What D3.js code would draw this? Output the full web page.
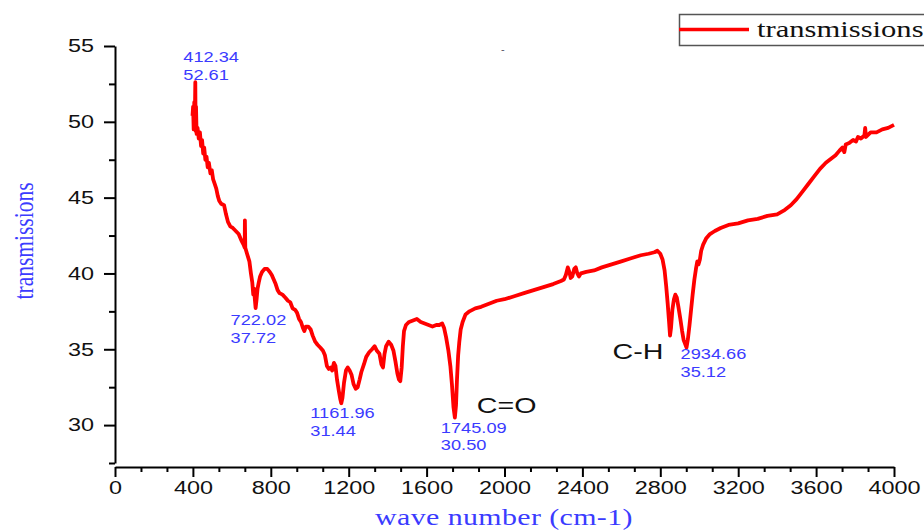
<!DOCTYPE html>
<html>
<head>
<meta charset="utf-8">
<script src="https://cdn.jsdelivr.net/npm/d3@7"></script>
<style>
  body { margin: 0; background: #fff; }
  svg { display: block; }
</style>
</head>
<body>
<svg id="chart" width="924" height="530"></svg>
<script>

// FTIR spectrum
const waveNumbers = [
  398, 401, 404, 407, 410, 412.34, 414, 416, 419, 424, 430, 436, 442, 447, 453, 458, 464, 470, 476, 482,
  490, 497, 504, 512, 520, 528, 535, 545, 560, 570, 580, 592, 605, 620, 635, 648, 660, 666, 667, 669,
  678, 690, 698, 705, 710, 714, 718, 722.02, 727, 732, 738, 745, 755, 768, 782, 795, 805, 815, 825, 835,
  845, 860, 875, 888, 900, 912, 925, 935, 945, 955, 965, 972, 980, 992, 1005, 1015, 1028, 1040, 1055, 1068,
  1078, 1088, 1098, 1108, 1115, 1124, 1132, 1140, 1150, 1157, 1161.96, 1168, 1176, 1186, 1195, 1205, 1215, 1225, 1236, 1246,
  1256, 1265, 1278, 1290, 1305, 1320, 1333, 1345, 1358, 1368, 1376, 1384, 1392, 1405, 1418, 1430, 1440, 1450, 1458, 1465,
  1472, 1478, 1484, 1494, 1510, 1530, 1550, 1570, 1590, 1610, 1630, 1650, 1665, 1680, 1690, 1700, 1712, 1722, 1730, 1738,
  1745.09, 1751, 1756, 1762, 1768, 1775, 1785, 1800, 1820, 1850, 1880, 1920, 1960, 2000, 2050, 2100, 2150, 2200, 2250, 2290,
  2305, 2315, 2325, 2333, 2340, 2348, 2358, 2366, 2374, 2382, 2392, 2420, 2460, 2500, 2550, 2600, 2650, 2700, 2740, 2770,
  2785, 2800, 2812, 2822, 2830, 2838, 2845, 2850, 2855, 2862, 2870, 2877, 2885, 2893, 2903, 2912, 2920, 2934.66, 2942, 2950,
  2958, 2966, 2975, 2983, 2990, 2996, 3003, 3010, 3020, 3035, 3055, 3080, 3110, 3150, 3200, 3250, 3300, 3350, 3400, 3440,
  3470, 3500, 3530, 3560, 3590, 3620, 3650, 3680, 3700, 3720, 3735, 3745, 3752, 3770, 3790, 3805, 3815, 3830, 3848, 3852,
  3856, 3880, 3910, 3940, 3970, 4000
];

const transmissions = [
  50.4, 51.0, 49.5, 51.3, 50.2, 52.61, 49.4, 51.0, 49.2, 49.6, 48.9, 49.3, 48.4, 48.8, 47.9, 48.3, 47.5, 47.7, 47.0, 47.3,
  46.6, 46.8, 46.2, 45.9, 45.6, 45.1, 44.8, 44.6, 44.5, 43.9, 43.4, 43.1, 43.0, 42.8, 42.6, 42.2, 41.9, 41.7, 43.5, 41.7,
  41.3, 40.8, 40.0, 39.4, 38.6, 39.0, 38.3, 37.72, 38.3, 39.0, 39.4, 39.8, 40.1, 40.3, 40.3, 40.1, 39.9, 39.6, 39.3, 38.9,
  38.7, 38.6, 38.4, 38.2, 38.1, 37.7, 37.6, 37.4, 37.0, 36.8, 36.4, 36.2, 36.5, 36.5, 36.3, 35.9, 35.5, 35.3, 35.1, 34.9,
  34.6, 33.9, 33.7, 33.8, 33.6, 34.1, 33.9, 33.0, 32.2, 31.7, 31.44, 31.8, 32.8, 33.6, 33.8, 33.6, 33.3, 32.7, 32.4, 32.5,
  33.0, 33.5, 34.0, 34.5, 34.8, 35.0, 35.2, 34.9, 34.7, 34.0, 33.8, 34.7, 35.2, 35.5, 35.3, 34.9, 34.2, 33.4, 33.0, 32.9,
  33.8, 35.2, 36.2, 36.6, 36.8, 36.9, 37.0, 36.8, 36.7, 36.6, 36.5, 36.6, 36.6, 36.7, 36.4, 35.8, 34.9, 33.9, 32.7, 31.2,
  30.50, 31.3, 33.0, 34.6, 35.5, 36.3, 36.8, 37.3, 37.5, 37.7, 37.8, 38.0, 38.2, 38.3, 38.5, 38.7, 38.9, 39.1, 39.3, 39.5,
  39.6, 39.9, 40.4, 40.1, 39.7, 39.8, 40.3, 40.4, 40.0, 39.8, 40.0, 40.1, 40.2, 40.4, 40.6, 40.8, 41.0, 41.2, 41.3, 41.4,
  41.5, 41.3, 40.9, 40.2, 39.2, 38.0, 36.8, 35.9, 36.4, 37.6, 38.3, 38.6, 38.4, 37.8, 37.0, 36.2, 35.6, 35.12, 35.7, 36.6,
  37.6, 38.6, 39.6, 40.3, 40.8, 40.6, 40.9, 41.5, 41.9, 42.3, 42.6, 42.8, 43.0, 43.2, 43.3, 43.5, 43.6, 43.8, 43.9, 44.2,
  44.5, 44.9, 45.4, 45.9, 46.4, 46.9, 47.3, 47.6, 47.8, 48.1, 48.3, 48.0, 48.5, 48.6, 48.8, 48.7, 49.0, 48.9, 49.1, 49.6,
  49.0, 49.3, 49.3, 49.5, 49.6, 49.8
];

const peakWaves = [412.34, 722.02, 1161.96, 1745.09, 2934.66];
const peakValues = [52.61, 37.72, 31.44, 30.50, 35.12];

const groupLabels = ["C=O", "C-H"];
const groupWaves = [1745.09, 2934.66];

const xTicks = [0, 400, 800, 1200, 1600, 2000, 2400, 2800, 3200, 3600, 4000];
const yTicks = [30, 35, 40, 45, 50, 55];

const seriesName = "transmissions";
const xTitle = "wave number (cm-1)";
const yTitle = "transmissions";

// layout
const sans = "'Liberation Sans', Arial, sans-serif",
      serif = "'Liberation Serif', 'Times New Roman', serif",
      blue = "#3b3bff",
      red = "#ff0000",
      stretchX = 1.3;   // the source picture is squeezed sideways

const peakOffsets = [[-12, -20], [-25, 17], [-31, 15], [-14, 15], [-6, 12]];
const groupOffsets = [[22, -5], [-74, 12]];

let svg = d3.select("#chart");

let x = d3.scaleLinear().domain([0, 4000]).range([115, 894]),
    y = d3.scaleLinear().domain([27.5, 55]).range([463, 46]);

// widen text the way the original picture is widened
let stretch = (_, k = stretchX) => {
  _.each(function() {
    let w = this.getComputedTextLength();
    d3.select(this)
      .attr("textLength", w * k)
      .attr("lengthAdjust", "spacingAndGlyphs");
  });
};

// y axis
let yMinor = d3.range(27.5, 55.01, 2.5).filter(v => !yTicks.includes(v));

let yAxis = svg.append("g")
  .attr("transform", "translate(115,0)");

yAxis.call(d3.axisLeft(y).tickValues(yTicks).tickSize(11).tickSizeOuter(0).tickPadding(10));
yAxis.append("g")
  .call(d3.axisLeft(y).tickValues(yMinor).tickSize(6).tickSizeOuter(0).tickFormat(""))
  .select(".domain").remove();

// x axis
let xMinor = d3.range(0, 4000.1, 400 / 3).filter(v => Math.abs(v / 400 - Math.round(v / 400)) > 1e-6);

let xAxis = svg.append("g")
  .attr("transform", "translate(0,467)");

xAxis.call(d3.axisBottom(x).tickValues(xTicks).tickFormat(d3.format("d")).tickSize(10).tickSizeOuter(0).tickPadding(4));
xAxis.append("g")
  .call(d3.axisBottom(x).tickValues(xMinor).tickSize(5).tickSizeOuter(0).tickFormat(""))
  .select(".domain").remove();

svg.selectAll(".domain, .tick line")
  .attr("stroke", "#000")
  .attr("stroke-width", 2);

svg.selectAll(".tick text")
  .attr("fill", "#111")
  .style("font-family", sans)
  .style("font-size", "18px")
  .call(stretch);

// axis titles
svg.append("text")
  .attr("transform", "translate(33,241) rotate(-90) scale(1," + stretchX + ")")
  .attr("text-anchor", "middle")
  .attr("fill", blue)
  .style("font-family", serif)
  .style("font-size", "21.5px")
  .text(yTitle);

svg.append("text")
  .attr("x", 504)
  .attr("y", 525)
  .attr("text-anchor", "middle")
  .attr("fill", blue)
  .style("font-family", serif)
  .style("font-size", "23px")
  .style("letter-spacing", "0.3px")
  .text(xTitle)
  .call(stretch);

// spectrum
let spectrum = d3.zip(waveNumbers, transmissions);

svg.append("path")
  .datum(spectrum)
  .attr("fill", "none")
  .attr("stroke", red)
  .attr("stroke-width", 3.8)
  .attr("stroke-linejoin", "round")
  .attr("d", d3.line().x(d => x(d[0])).y(d => y(d[1])));

// peak labels
let peaks = d3.zip(peakWaves, peakValues, peakOffsets);

let peakSel = svg.append("g")
  .selectAll("g.peak")
  .data(peaks)
  .enter().append("g")
  .classed("peak", true)
  .attr("transform", d => "translate(" + (x(d[0]) + d[2][0]) + "," + (y(d[1]) + d[2][1]) + ")");

peakSel.append("text")
  .attr("fill", blue)
  .style("font-family", sans)
  .style("font-size", "14px")
  .text(d => d3.format(".2f")(d[0]))
  .call(stretch);

peakSel.append("text")
  .attr("y", 17.5)
  .attr("fill", blue)
  .style("font-family", sans)
  .style("font-size", "14px")
  .text(d => d3.format(".2f")(d[1]))
  .call(stretch);

// functional groups
svg.append("g")
  .selectAll("text.group")
  .data(d3.zip(groupLabels, groupWaves, groupOffsets))
  .enter().append("text")
  .classed("group", true)
  .attr("x", d => x(d[1]) + d[2][0])
  .attr("y", d => y(peakValues[peakWaves.indexOf(d[1])]) + d[2][1])
  .attr("fill", "#111")
  .style("font-family", sans)
  .style("font-size", "22px")
  .text(d => d[0])
  .call(stretch);

// stray mark in the original
svg.append("text")
  .attr("x", 501)
  .attr("y", 53)
  .attr("fill", "#556")
  .style("font-family", sans)
  .style("font-size", "11px")
  .text("-");

// legend
let legend = svg.append("g")
  .attr("transform", "translate(679,14)");

legend.append("rect")
  .attr("x", 0.5)
  .attr("y", 0.5)
  .attr("width", 260)
  .attr("height", 31)
  .attr("fill", "#fff")
  .attr("stroke", "#555")
  .attr("stroke-width", 1.5);

legend.append("line")
  .attr("x1", 0)
  .attr("x2", 70)
  .attr("y1", 15.5)
  .attr("y2", 15.5)
  .attr("stroke", red)
  .attr("stroke-width", 3.5);

legend.append("text")
  .attr("x", 78)
  .attr("y", 22.5)
  .attr("fill", "#111")
  .style("font-family", serif)
  .style("font-size", "23px")
  .text(seriesName)
  .call(stretch, 1.33);

</script>
</body>
</html>
